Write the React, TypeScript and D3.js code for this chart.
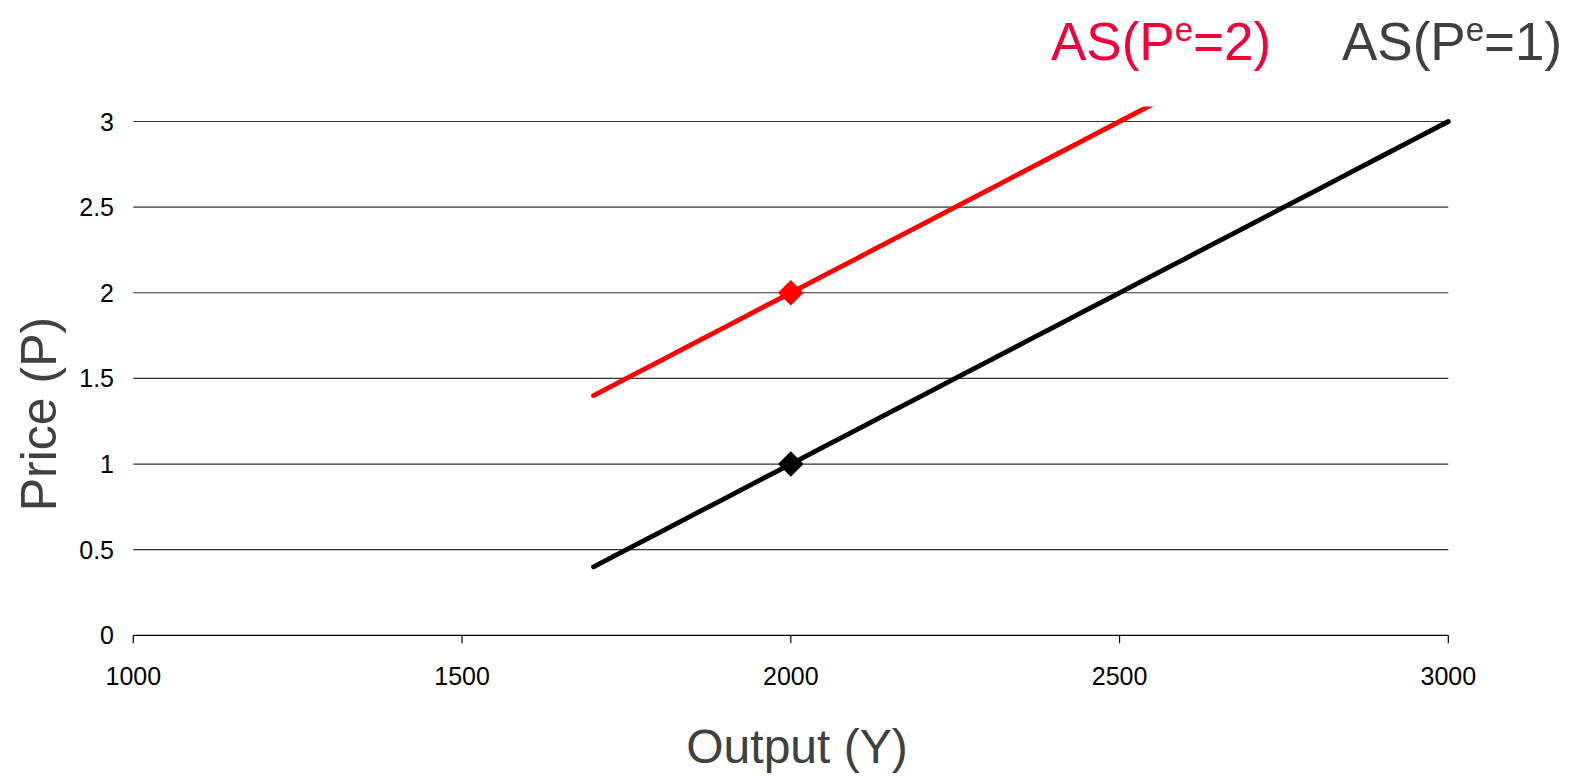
import React from "react";
import * as d3 from "d3";

const outputY = [1700, 1750, 1800, 1850, 1900, 1950, 2000, 2050, 2100, 2150, 2200, 2250, 2300, 2350, 2400, 2450, 2500, 2550, 2600, 2650, 2700, 2750, 2800, 2850, 2900, 2950, 3000];
const priceExp1 = [0.4, 0.5, 0.6, 0.7, 0.8, 0.9, 1.0, 1.1, 1.2, 1.3, 1.4, 1.5, 1.6, 1.7, 1.8, 1.9, 2.0, 2.1, 2.2, 2.3, 2.4, 2.5, 2.6, 2.7, 2.8, 2.9, 3.0];
const outputY2 = [1700, 1750, 1800, 1850, 1900, 1950, 2000, 2050, 2100, 2150, 2200, 2250, 2300, 2350, 2400, 2450, 2500, 2550];
const priceExp2 = [1.4, 1.5, 1.6, 1.7, 1.8, 1.9, 2.0, 2.1, 2.2, 2.3, 2.4, 2.5, 2.6, 2.7, 2.8, 2.9, 3.0, 3.1];
const markerY = [2000, 2000];
const markerP = [1, 2];
const markerColors = ["#000000", "#FF0000"];
const xTicks = [1000, 1500, 2000, 2500, 3000];
const yTicks = [0, 0.5, 1, 1.5, 2, 2.5, 3];

const FONT = "'Liberation Sans', Arial, sans-serif";

export default function App() {
  const W = 1584, H = 776;
  const x = d3.scaleLinear().domain([1000, 3000]).range([133.3, 1448.3]);
  const y = d3.scaleLinear().domain([0, 3]).range([635.3, 121.5]);
  const clipTop = 106.5;

  const line = d3.line<[number, number]>().x((d) => x(d[0])).y((d) => y(d[1]));
  const black = line(outputY.map((v, i) => [v, priceExp1[i]] as [number, number])) || "";
  const red = line(outputY2.map((v, i) => [v, priceExp2[i]] as [number, number])) || "";
  const diamond = d3.symbol().type(d3.symbolDiamond2).size(420)() || "";

  return (
    <svg width={W} height={H} style={{ position: "absolute", left: 0, top: 0, background: "#fff" }}>
      <defs>
        <clipPath id="plotclip">
          <rect x={x(1000) - 10} y={clipTop} width={x(3000) - x(1000) + 20} height={y(0) - clipTop + 10} />
        </clipPath>
      </defs>
      {yTicks.map((t) => (
        <g key={"g" + t}>
          <line x1={x(1000)} x2={x(3000)} y1={y(t)} y2={y(t)} stroke={t === 0 ? "#000" : "#333"} strokeWidth={1.2} />
          <text x={114} y={y(t)} textAnchor="end" dominantBaseline="central" fontFamily={FONT} fontSize={25} fill="#000">
            {t}
          </text>
        </g>
      ))}
      {xTicks.map((t) => (
        <g key={"x" + t}>
          <line x1={x(t)} x2={x(t)} y1={y(0)} y2={y(0) + 8} stroke="#000" strokeWidth={1.2} />
          <text x={x(t)} y={676} textAnchor="middle" dominantBaseline="central" fontFamily={FONT} fontSize={25} fill="#000">
            {t}
          </text>
        </g>
      ))}
      <g clipPath="url(#plotclip)">
        <path d={black} fill="none" stroke="#000" strokeWidth={4.8} strokeLinecap="round" strokeLinejoin="round" />
        <path d={red} fill="none" stroke="#FF0000" strokeWidth={4.8} strokeLinecap="round" strokeLinejoin="round" />
      </g>
      {markerY.map((v, i) => (
        <path key={"m" + i} d={diamond} transform={`translate(${x(v)},${y(markerP[i])})`} fill={markerColors[i]} />
      ))}
      <text x={797} y={763} textAnchor="middle" fontFamily={FONT} fontSize={48} fill="#404040">
        Output (Y)
      </text>
      <text transform="translate(56,414) rotate(-90)" textAnchor="middle" fontFamily={FONT} fontSize={50} fill="#404040">
        Price (P)
      </text>
      <text x={1051} y={60} fontFamily={FONT} fontSize={53} fill="#F2003C">
        AS(P<tspan fontSize={33} dy={-19}>e</tspan><tspan dy={19}>=2)</tspan>
      </text>
      <text x={1342} y={60} fontFamily={FONT} fontSize={53} fill="#404040">
        AS(P<tspan fontSize={33} dy={-19}>e</tspan><tspan dy={19}>=1)</tspan>
      </text>
    </svg>
  );
}
